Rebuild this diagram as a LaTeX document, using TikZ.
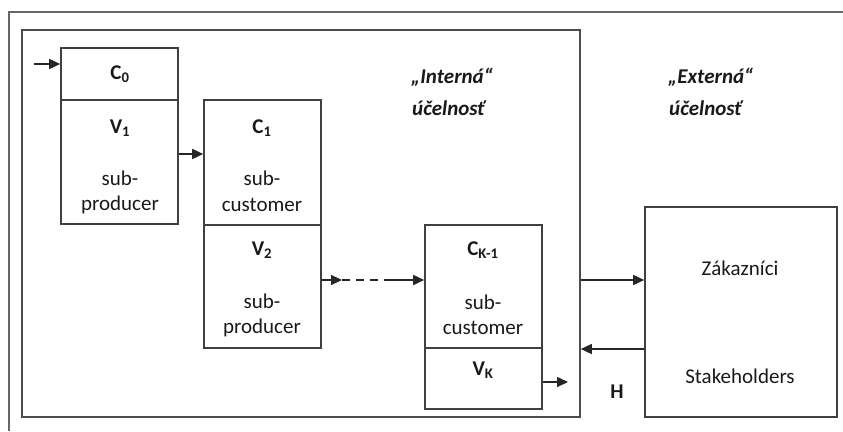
\documentclass[tikz,border=0pt]{standalone}
\usepackage{fontspec}
\setmainfont{Carlito}
\usepackage{tikz}
\usetikzlibrary{arrows.meta}

\begin{document}
\begin{tikzpicture}[x=1pt,y=-1pt]
    \tikzset{part/.style = {shape=rectangle,draw=black!75,line width=1.6pt,minimum width=117pt,inner sep=0pt}}
    \tikzset{frame/.style = {draw=black!70,line width=1.6pt}}
    \tikzset{lbl/.style = {shape=rectangle,draw=none,inner sep=0pt,text=black!90,font=\fontsize{21}{25}\selectfont}}
    \tikzset{edge/.style = {-{Triangle[length=11pt,width=10pt]},line width=1.5pt,draw=black!85}}

    \useasboundingbox (0,0) rectangle (843,431);

    % frames
    \draw[frame,black!60] (843,12) -- (9,12) -- (9,431);
    \node[frame,shape=rectangle,minimum width=558pt,minimum height=387pt,inner sep=0pt] (in) at (301,223.5) {};

    % boxes
    \node[part,minimum height=52pt] (c0) at (119.5,74) {};
    \node[part,minimum height=124pt] (v1) at (119.5,162) {};
    \node[part,minimum height=125pt] (c1) at (262.5,162.5) {};
    \node[part,minimum height=123pt] (v2) at (262.5,286.5) {};
    \node[part,minimum height=123pt] (ck) at (483.5,286.5) {};
    \node[part,minimum height=61pt] (vk) at (483.5,378.5) {};
    \node[part,minimum width=192pt,minimum height=210pt] (zs) at (741,312) {};

    % texts
    \node[lbl] (tc0) at (120,74) {\textbf{C\textsubscript{0}}};
    \node[lbl] (tv1) at (120,128) {\textbf{V\textsubscript{1}}};
    \node[lbl] (s1) at (120,178) {sub-};
    \node[lbl] (p1) at (120,205) {producer};
    \node[lbl] (tc1) at (262,128) {\textbf{C\textsubscript{1}}};
    \node[lbl] (s2) at (262,178) {sub-};
    \node[lbl] (u2) at (262,205) {customer};
    \node[lbl] (tv2) at (262,250) {\textbf{V\textsubscript{2}}};
    \node[lbl] (s3) at (262,301) {sub-};
    \node[lbl] (p3) at (262,328) {producer};
    \node[lbl] (tck) at (483,250) {\textbf{C\textsubscript{K-1}}};
    \node[lbl] (s4) at (483,302) {sub-};
    \node[lbl] (u4) at (483,328) {customer};
    \node[lbl] (tvk) at (483,370) {\textbf{V\textsubscript{K}}};
    \node[lbl,anchor=west] (int) at (411,77) {\textbf{\textit{„Interná“}}};
    \node[lbl,anchor=west] (uin) at (412,108) {\textbf{\textit{účelnosť}}};
    \node[lbl,anchor=west] (ext) at (668,77) {\textbf{\textit{„Externá“}}};
    \node[lbl,anchor=west] (uex) at (669,108) {\textbf{\textit{účelnosť}}};
    \node[lbl] (zak) at (740,268) {Zákazníci};
    \node[lbl] (stk) at (740,376) {Stakeholders};
    \node[lbl] (h) at (617,392) {\textbf{H}};

    % free ends
    \coordinate (i0) at (34,64);
    \coordinate (d1) at (342,280);
    \coordinate (d2) at (390,280);
    \coordinate (o1) at (568,382);

    % edges
    \draw[edge] (i0) -- (c0.west |- i0);
    \draw[edge] (v1.east |- 0,154) -- (c1.west |- 0,154);
    \draw[edge] (v2.east |- d1) -- (d1);
    \draw[line width=1.5pt,draw=black!85,dash pattern=on 8pt off 6pt] (d1) -- (d2);
    \draw[edge] (d2) -- (ck.west |- d2);
    \draw[edge] (in.east |- 0,280) -- (zs.west |- 0,280);
    \draw[edge] (zs.west |- 0,349) -- (in.east |- 0,349);
    \draw[edge] (vk.east |- o1) -- (o1);
\end{tikzpicture}
\end{document}
